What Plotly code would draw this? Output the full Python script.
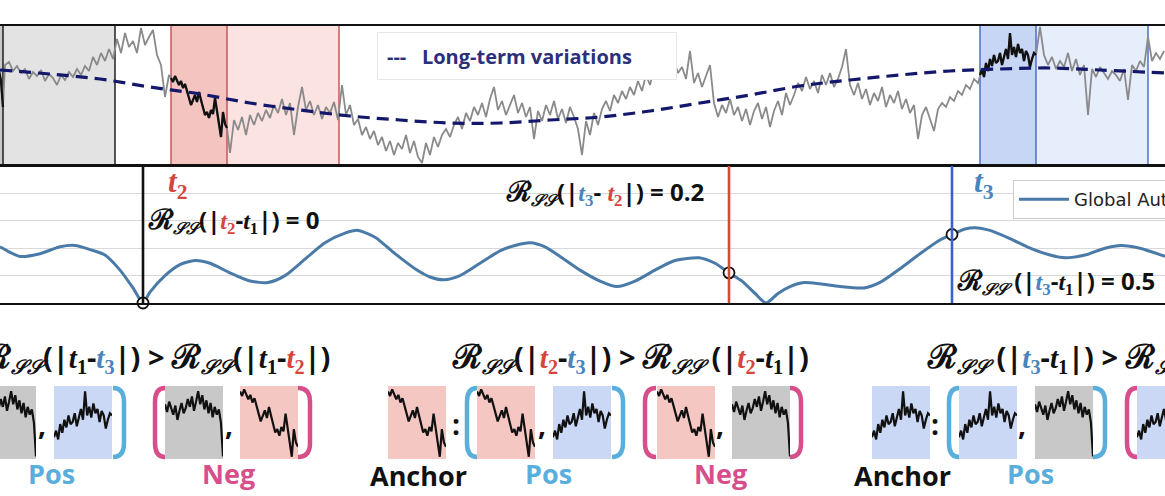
import plotly.graph_objects as go

W, H = 1165, 496

# ---------------- data ----------------
# time windows (start index) of the three sub-series, window length and extension
window_len = 56
ext_len = 112
t1_start, t2_start, t3_start = -53, 171, 980
seg_step = 2

seg_t1 = [98, 92, 100, 94, 90, 97, 86, 93, 99, 91, 95, 102, 96, 104, 93, 100, 108, 98, 105, 94,
          101, 91, 99, 88, 96, 90, 94, 84, 58]
seg_t2 = [87, 83, 89, 85, 80, 84, 77, 81, 73, 67, 60, 65, 70, 63, 73, 65, 57, 50, 53, 47,
          55, 51, 67, 53, 43, 28, 53, 41, 37]
seg_t3 = [90, 96, 88, 102, 94, 106, 99, 110, 102, 104, 112, 100, 108, 116, 106, 132, 110, 118, 108, 121,
          112, 116, 104, 114, 110, 98, 106, 112, 110]

gray_step = 4
gray_a_start = 5
gray_a = [100, 103, 94, 99, 92, 96, 86, 93, 89, 95, 84, 91, 87, 80, 90, 85, 93, 88, 96, 90,
          99, 94, 108, 100, 112, 104, 116, 106, 126, 112, 132, 118, 124, 112, 137, 120, 128, 135, 110, 100,
          68, 90]
gray_b_start = 230
gray_b = [12, 45, 35, 48, 30, 50, 40, 52, 44, 55, 47, 60, 52, 66, 50, 62, 30, 58, 78, 55,
          64, 50, 60, 46, 58, 52, 63, 45,
          80, 50, 60, 40, 46, 30, 38, 26, 34, 20, 28, 14, 24, 10, 22, 16, 30, 12, 24, 8,
          2, 22, 10, 28, 18, 30, 36, 28,
          40, 48, 36, 52, 44, 58, 50, 62, 48, 66, 78, 55, 64, 50, 60, 70, 52, 62, 48, 58,
          26, 54, 44, 60, 50, 64, 46, 56, 42, 58, 48, 36, 10, 44, 30, 52, 40,
          56, 64, 54, 70, 62, 74, 66, 78, 70, 84, 74, 90, 80, 96, 86, 100, 88, 94, 104, 92,
          98, 86, 114, 82, 92, 78, 88, 100,
          62, 48, 60, 52, 66, 50, 58, 44, 56, 40, 54, 62, 46, 58, 38, 54, 64, 50, 72, 60,
          70, 82, 74, 88, 76, 84, 72, 90, 80, 92, 78, 86, 98, 116, 80,
          70, 82, 66, 76, 60, 72, 64, 78, 58, 70, 62, 74, 56, 66, 52, 60, 26,
          50, 58, 46, 34, 56, 62, 58, 68, 64, 74, 70, 80, 76, 86, 82]
gray_c_start = 1040
gray_c = [138, 110, 100, 108, 96, 104, 98, 112, 94, 106, 90, 100, 50, 96, 88, 98, 92, 86, 94, 90,
          84, 96, 65, 100, 94, 104, 98, 128, 104, 112, 106, 114]

trend_t = [0, 50, 100, 150, 200, 250, 300, 350, 400, 450, 500, 550, 600, 650, 700, 750, 800, 850,
           900, 950, 1000, 1050, 1100, 1165]
trend_v = [95, 91, 86, 78, 71, 62, 55, 49, 45, 42, 42, 45, 48, 54, 62, 70, 79, 85, 90, 94, 96, 97, 95, 92]

acf_lag = [0, 10, 20, 40, 60, 75, 90, 105, 120, 133, 143, 150, 165, 180, 195, 210, 230, 250, 268, 285,
           305, 325, 345, 358, 375, 395, 415, 430, 444, 460, 480, 500, 515, 530, 545, 560, 580, 600, 617, 635,
           655, 675, 699, 715, 729, 742, 755, 766, 778, 790, 804, 820, 840, 864, 880, 900, 920, 940, 952, 965,
           975, 990, 1010, 1030, 1050, 1065, 1085, 1105, 1121, 1140, 1165]
acf_val = [0.41, 0.37, 0.34, 0.36, 0.41, 0.42, 0.39, 0.35, 0.24, 0.11, 0.0, 0.08, 0.20, 0.28, 0.31, 0.29, 0.22, 0.16, 0.15, 0.20,
           0.32, 0.44, 0.51, 0.53, 0.48, 0.36, 0.25, 0.19, 0.17, 0.20, 0.29, 0.38, 0.42, 0.44, 0.41, 0.34, 0.24, 0.16, 0.12, 0.16,
           0.24, 0.31, 0.33, 0.29, 0.22, 0.16, 0.07, 0.0, 0.07, 0.12, 0.15, 0.14, 0.12, 0.11, 0.15, 0.25, 0.36, 0.46, 0.50, 0.54,
           0.55, 0.53, 0.47, 0.40, 0.35, 0.33, 0.35, 0.40, 0.42, 0.40, 0.34]

marked_lags = [143, 729, 952]
marked_vals = [0.0, 0.22, 0.50]
marked_text = ["0", "0.2", "0.5"]

# ---------------- helpers ----------------
def px(x):
    return x / W

def py(y):
    return 1 - y / H

def seq(start, step, n):
    return [start + step * i for i in range(n)]

RED = "#d6453d"
BLUE = "#4a84bd"
CYAN = "#5aaedc"
PINK = "#d64f8a"
NAVY = "#14186b"

seg_vals = {"t1": seg_t1, "t2": seg_t2, "t3": seg_t3}

x_t1 = seq(t1_start, seg_step, len(seg_t1))
x_t2 = seq(t2_start, seg_step, len(seg_t2))
x_t3 = seq(t3_start, seg_step, len(seg_t3))
x_a = seq(gray_a_start, gray_step, len(gray_a))
x_b = seq(gray_b_start, gray_step, len(gray_b))
x_c = seq(gray_c_start, gray_step, len(gray_c))

full_x = x_t1 + x_a + x_t2 + x_b + x_t3 + x_c
full_y = seg_t1 + gray_a + seg_t2 + gray_b + seg_t3 + gray_c

fig = go.Figure()

# ---- top panel ----
fig.add_trace(go.Scatter(x=full_x, y=full_y, mode="lines", line=dict(color="#8a8a8a", width=1.8),
                         showlegend=False, xaxis="x", yaxis="y", hoverinfo="skip"))
for xs, ys in [(x_t1, seg_t1), (x_t2, seg_t2), (x_t3, seg_t3)]:
    fig.add_trace(go.Scatter(x=xs, y=ys, mode="lines", line=dict(color="#111111", width=2.3),
                             showlegend=False, xaxis="x", yaxis="y", hoverinfo="skip"))
fig.add_trace(go.Scatter(x=trend_t, y=trend_v, mode="lines",
                         line=dict(color=NAVY, width=3.2, dash="12px,7px", shape="spline", smoothing=1),
                         showlegend=False, xaxis="x", yaxis="y", hoverinfo="skip"))

# ---- middle panel ----
fig.add_trace(go.Scatter(x=acf_lag, y=acf_val, mode="lines", name="Global Autocorrelation",
                         line=dict(color="#4a7aa8", width=3, shape="spline", smoothing=0.7),
                         xaxis="x2", yaxis="y2", showlegend=True))

shapes = []
# shaded windows in top panel
windows = [
    (t1_start, "#c9c9c9", "#e3e3e3", "#111111"),
    (t2_start, "#f3c4c0", "#fbe3e1", "#c0504d"),
    (t3_start, "#c8d6f6", "#e6edfb", "#3f67c6"),
]
for s, dark, light, edge in windows:
    shapes.append(dict(type="rect", xref="x", yref="y domain", x0=s, x1=s + window_len, y0=0, y1=1,
                       fillcolor=dark, line=dict(width=0), layer="below"))
    shapes.append(dict(type="rect", xref="x", yref="y domain", x0=s + window_len, x1=s + window_len + ext_len,
                       y0=0, y1=1, fillcolor=light, line=dict(width=0), layer="below"))
    for xe in [s, s + window_len, s + window_len + ext_len]:
        shapes.append(dict(type="line", xref="x", yref="y domain", x0=xe, x1=xe, y0=0, y1=1,
                           line=dict(color=edge, width=1.4), layer="below"))

# vertical lag markers in middle panel
for lag, col in zip(marked_lags, ["#111111", "#d9473b", "#3b63cf"]):
    shapes.append(dict(type="line", xref="x2", yref="y2 domain", x0=lag, x1=lag, y0=0, y1=1,
                       line=dict(color=col, width=2.6)))

fig.add_trace(go.Scatter(x=marked_lags, y=marked_vals, mode="markers",
                         marker=dict(size=11, color="white", line=dict(color="#111111", width=1.8)),
                         showlegend=False, xaxis="x2", yaxis="y2", cliponaxis=False, hoverinfo="skip"))

# ---- thumbnails ----
box_w = 58
box_top, box_bot = 386, 459
thumb_boxes = [(-22, "t1"), (54, "t3"), (165, "t1"), (240, "t2"),
               (388, "t2"), (477, "t2"), (553, "t3"), (657, "t2"), (732, "t1"),
               (872, "t3"), (959, "t3"), (1035, "t1"), (1137, "t3")]
thumb_fill = {"t1": "#c8c8c8", "t2": "#f4c7c3", "t3": "#cad7f5"}
thumb_yrange = {"t1": [56, 112], "t2": [26, 92], "t3": [70, 137]}

layout_axes = {}
for i, (left, kind) in enumerate(thumb_boxes):
    n = 3 + i
    vals = seg_vals[kind]
    npts = len(vals)
    right = left + box_w
    vis_l, vis_r = max(left, 0), min(right, W)
    r0 = (vis_l - left) / box_w * (npts - 1)
    r1 = (vis_r - left) / box_w * (npts - 1)
    shapes.append(dict(type="rect", xref="paper", yref="paper", x0=px(left), x1=px(right),
                       y0=py(box_bot), y1=py(box_top), fillcolor=thumb_fill[kind],
                       line=dict(width=0), layer="below"))
    fig.add_trace(go.Scatter(x=list(range(npts)), y=vals, mode="lines",
                             line=dict(color="#111111", width=2.2), showlegend=False,
                             xaxis=f"x{n}", yaxis=f"y{n}", hoverinfo="skip", cliponaxis=False))
    layout_axes[f"xaxis{n}"] = dict(domain=[px(vis_l), px(vis_r)], range=[r0, r1], visible=False,
                                    anchor=f"y{n}")
    layout_axes[f"yaxis{n}"] = dict(domain=[py(box_bot), py(box_top)], range=thumb_yrange[kind],
                                    visible=False, anchor=f"x{n}")

# brackets
b_top, b_bot = 388, 457
brackets = [(113, 126, "R", CYAN), (465, 477, "L", CYAN), (612, 625, "R", CYAN),
            (947, 959, "L", CYAN), (1093, 1107, "R", CYAN),
            (153, 165, "L", PINK), (298, 312, "R", PINK), (643, 656, "L", PINK),
            (790, 803, "R", PINK), (1125, 1137, "L", PINK)]
for xl, xr, side, col in brackets:
    if side == "L":
        xs, xo = xl + 2, xr
    else:
        xs, xo = xr - 2, xl
    r = 14
    path = (f"M{px(xo)},{py(b_top)} Q{px(xs)},{py(b_top)} {px(xs)},{py(b_top + r)} "
            f"L{px(xs)},{py(b_bot - r)} Q{px(xs)},{py(b_bot)} {px(xo)},{py(b_bot)}")
    shapes.append(dict(type="path", xref="paper", yref="paper", path=path,
                       line=dict(color=col, width=4.5)))

# ---------------- text ----------------
def tt(i, color="#111111"):
    return (f"<span style='font-family:Liberation Serif;color:{color}'>"
            f"<b><i>t</i></b><sub><b>{i}</b></sub></span>")

def RS(size):
    return (f"<span style='font-family:DejaVu Serif;font-size:{round(size * 1.15)}px'>ℛ</span>"
            f"<sub><i>𝒮𝒮</i></sub>")

annotations = []

def ann(text, x, y, size, xanchor="left", color="#111111", family="Open Sans", **kw):
    d = dict(text=text, x=px(x), y=py(y), xref="paper", yref="paper", showarrow=False,
             xanchor=xanchor, yanchor="middle", font=dict(size=size, color=color, family=family,
                                                            weight="bold"))
    d.update(kw)
    annotations.append(d)

# legend-like box of top panel
ann("---   Long-term variations", 377, 56, 20, color="#2c2f7c", bgcolor="white",
    bordercolor="#e6e6e6", borderwidth=1, borderpad=9, width=280, height=28, align="left")

# t labels
ann(tt(2, RED), 166, 184, 31)
ann(tt(3, BLUE), 972, 184, 31)

# middle panel annotations
ms = 24
ann(RS(ms) + "(|" + tt(2, RED) + "-" + tt(1) + "|) = " + marked_text[0], 146, 221, ms)
ann(RS(ms) + "(|" + tt(3, BLUE) + "- " + tt(2, RED) + "|) = " + marked_text[1], 504, 193, ms)
ann(RS(ms) + " (|" + tt(3, BLUE) + "-" + tt(1) + "|) = " + marked_text[2], 955, 282, ms)

# bottom formulas
fs = 29
ann(RS(fs) + "(|" + tt(1) + "-" + tt(3, BLUE) + "|) > " + RS(fs) + "(|" + tt(1) + "-" + tt(2, RED) + "|)",
    332, 358, fs, xanchor="right")
ann(RS(fs) + "(|" + tt(2, RED) + "-" + tt(3, BLUE) + "|) > " + RS(fs) + " (|" + tt(2, RED) + "-" + tt(1) + "|)",
    450, 358, fs)
ann(RS(fs) + " (|" + tt(3, BLUE) + "-" + tt(1) + "|) > " + RS(fs) + " (|" + tt(3, BLUE) + "-" + tt(2, RED) + "|)",
    925, 358, fs)

# commas and colons
for xc in [42, 229, 542, 720, 1022]:
    ann(",", xc, 424, 28, xanchor="center")
for xc in [456, 935]:
    ann(":", xc, 424, 28, xanchor="center")

# group labels
for xc in [51, 548, 1030]:
    ann("Pos", xc, 473, 27, xanchor="center", color=CYAN)
for xc in [229, 720]:
    ann("Neg", xc, 473, 27, xanchor="center", color=PINK)
for xc in [418, 902]:
    ann("Anchor", xc, 475, 27, xanchor="center")

axis_common = dict(showticklabels=False, ticks="", zeroline=False)
fig.update_layout(
    width=W, height=H, margin=dict(l=0, r=0, t=0, b=0, autoexpand=False),
    paper_bgcolor="white", plot_bgcolor="rgba(0,0,0,0)",
    font=dict(family="Open Sans", color="#111111"),
    xaxis=dict(domain=[0, 1], range=[0, W], showgrid=False, showline=True, mirror=True,
               linecolor="#111111", linewidth=2.2, anchor="y", **axis_common),
    yaxis=dict(domain=[py(165), py(26)], range=[0, 139], showgrid=False, showline=False,
               anchor="x", **axis_common),
    xaxis2=dict(domain=[0, 1], range=[0, W], showgrid=False, showline=True, mirror=True,
                linecolor="#111111", linewidth=2.2, anchor="y2", **axis_common),
    yaxis2=dict(domain=[py(303), py(166)], range=[0, 1], dtick=0.2, showgrid=True,
                gridcolor="#d9d9d9", gridwidth=1, showline=False, anchor="x2", **axis_common),
    shapes=shapes,
    annotations=annotations,
    legend=dict(x=px(1013), y=py(180), xanchor="left", yanchor="top", bgcolor="white",
                bordercolor="#cccccc", borderwidth=1, itemwidth=50,
                font=dict(family="DejaVu Sans", size=18, color="#222222")),
    **layout_axes,
)

fig.write_html("out.html", config={"displayModeBar": False},
               post_script="document.body.style.margin='0';document.body.style.overflow='hidden';")
